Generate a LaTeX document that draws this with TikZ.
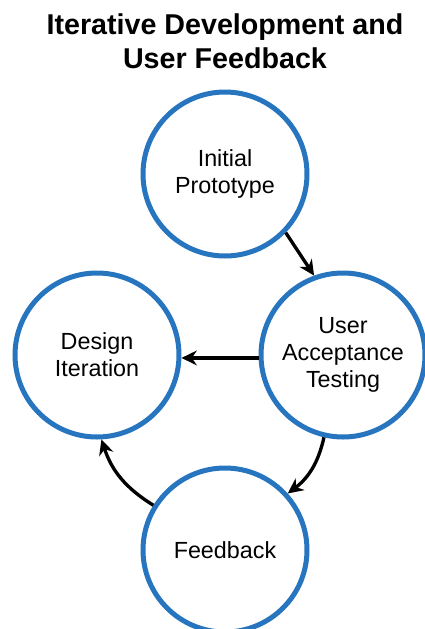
\documentclass[tikz,border=0pt]{standalone}
\usepackage{fontspec}
\setmainfont{Liberation Sans}
\usepackage{tikz}
\usetikzlibrary{arrows.meta}
\usepackage{xcolor}
\definecolor{bordo}{RGB}{38,117,190}

\begin{document}
\begin{tikzpicture}[x = 0.75pt, y = -0.75pt,
    fase/.style = {circle, draw = bordo, line width = 3.75pt, fill = white,
        minimum size = 123pt, inner sep = 0pt, align = center,
        font = \fontsize{17.5}{20.3}\selectfont},
    freccia/.style = {line width = 2.5pt, -{Stealth[length = 11.5pt, width = 11pt]}}]
    % Parametri
    \pgfmathsetmacro{\larg}{425}
    \pgfmathsetmacro{\alt}{629}
    \useasboundingbox (0,0) rectangle (\larg,\alt);
    % Titolo
    \node[align = center, font = \bfseries\fontsize{21.5}{25.5}\selectfont] (titolo) at (225,41)
        {Iterative Development and\\User Feedback};
    % Cerchi
    \node[fase] (proto) at (225,174) {Initial\\Prototype};
    \node[fase] (uat) at (343,355) {User\\Acceptance\\Testing};
    \node[fase] (design) at (97,355) {Design\\Iteration};
    \node[fase] (feed) at (225,550) {Feedback};
    % Frecce
    \draw[freccia] (proto.-44) -- (uat.110);
    \draw[freccia] (uat.182) -- (design.-2);
    \draw[freccia] (uat.-103) to[bend left = 20] (feed.42);
    \draw[freccia] (feed.148) to[bend left = 20] (design.-87);
\end{tikzpicture}
\end{document}
